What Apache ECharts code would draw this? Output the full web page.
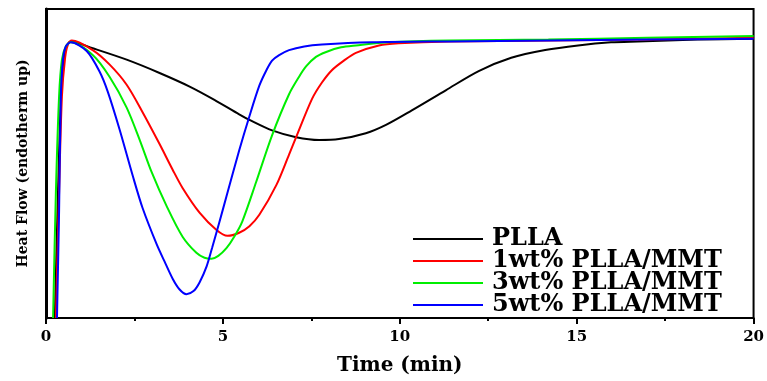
<!DOCTYPE html>
<html>
<head>
<meta charset="utf-8">
<script src="https://cdn.jsdelivr.net/npm/echarts@6/dist/echarts.min.js"></script>
<style>
  html, body { margin: 0; padding: 0; background: #fff; }
  #chart { width: 767px; height: 381px; }
</style>
</head>
<body>
<div id="chart"></div>
<script>
// [time (min), heat flow (arbitrary, 0 = axis bottom)]
const seriesNames = ["PLLA", "1wt% PLLA/MMT", "3wt% PLLA/MMT", "5wt% PLLA/MMT"];
const seriesColors = ["#000000", "#ff0000", "#00ee00", "#0000ff"];
const xTicks = [0, 5, 10, 15, 20];

const pllaData = [
  [0.25, 0], [0.34, 40.9], [0.45, 78.0], [0.56, 87.3], [0.7, 89.5], [1.32, 87.3],
  [2.28, 83.6], [3.21, 79.3], [4.06, 74.9], [4.76, 70.6], [5.46, 65.9], [5.75, 64.1],
  [6.39, 60.7], [7.07, 58.5], [7.72, 57.6], [8.28, 57.9], [9.04, 59.8], [9.61, 62.5],
  [10.34, 67.2], [11.3, 73.7], [12.23, 79.9], [13.15, 84.2], [14.11, 86.7],
  [15.04, 88.2], [15.97, 89.2], [16.73, 89.5], [18.42, 90.1], [20, 90.4]
];
const mmt1Data = [
  [0.28, 0], [0.37, 40.9], [0.45, 71.8], [0.54, 84.2], [0.62, 88.5], [0.73, 89.8],
  [1.32, 86.7], [1.8, 82.0], [2.28, 75.5], [2.73, 66.6], [3.21, 56.3], [3.58, 48.0],
  [3.86, 42.1], [4.34, 34.1], [4.82, 28.5], [5.13, 26.6], [5.46, 27.6], [5.75, 29.7],
  [6.03, 33.4], [6.51, 43.0], [6.87, 52.9], [7.07, 58.5], [7.52, 70.9], [7.8, 76.2],
  [8.08, 80.2], [8.42, 83.3], [8.76, 85.8], [9.41, 88.2], [9.97, 88.9], [11.38, 89.5],
  [14.2, 89.8], [17.0, 90.1], [20, 90.7]
];
const mmt3Data = [
  [0.2, 0], [0.28, 40.9], [0.37, 71.8], [0.45, 83.6], [0.56, 87.9], [0.7, 89.2],
  [1.32, 85.1], [1.8, 78.0], [2.28, 68.1], [2.65, 57.6], [2.99, 47.1], [3.41, 36.2],
  [3.86, 26.3], [4.25, 21.1], [4.48, 19.5], [4.68, 19.2], [4.87, 20.1], [5.1, 22.6],
  [5.32, 26.3], [5.55, 31.3], [5.94, 44.0], [6.39, 59.1], [6.87, 72.4], [7.15, 78.0],
  [7.35, 81.4], [7.63, 84.5], [7.92, 86.1], [8.34, 87.6], [8.76, 88.2], [9.69, 89.2],
  [11.38, 89.8], [14.2, 90.1], [17.0, 90.7], [20, 91.3]
];
const mmt5Data = [
  [0.31, 0], [0.37, 34.7], [0.42, 71.8], [0.48, 83.6], [0.56, 87.9], [0.7, 89.2],
  [1.15, 86.4], [1.52, 79.6], [1.75, 73.1], [2.08, 61.0], [2.45, 46.1], [2.73, 35.6],
  [3.13, 23.8], [3.35, 18.3], [3.58, 12.7], [3.77, 9.3], [3.97, 7.7], [4.17, 8.7],
  [4.34, 11.5], [4.54, 16.7], [4.7, 22.9], [4.9, 31.0], [5.1, 39.3], [5.46, 54.2],
  [5.75, 65.3], [6.03, 75.2], [6.23, 80.2], [6.39, 83.3], [6.59, 85.1], [6.87, 86.7],
  [7.3, 87.9], [7.8, 88.5], [9.21, 89.2], [11.38, 89.5], [14.2, 89.8], [17.0, 90.1],
  [20, 90.4]
];
const allData = [pllaData, mmt1Data, mmt3Data, mmt5Data];

const chart = echarts.init(document.getElementById("chart"));
const serif = "DejaVu Serif";

chart.setOption({
  animation: false,
  backgroundColor: "#fff",
  grid: {
    left: 46, right: 11, top: 9, bottom: 49,
    show: true, borderColor: "#000", borderWidth: 2, backgroundColor: "transparent"
  },
  legend: {
    orient: "vertical",
    left: 408,
    top: 222,
    icon: "rect",
    itemWidth: 70,
    itemHeight: 2,
    itemGap: -2,
    textStyle: {
      fontFamily: serif, fontWeight: "bold", fontSize: 24, color: "#000",
      lineHeight: 22, padding: [0, 0, 0, 4]
    },
    data: seriesNames
  },
  xAxis: {
    type: "value",
    min: 0, max: 20, interval: 5,
    name: "Time (min)",
    nameLocation: "middle",
    nameGap: 38,
    nameTextStyle: { fontFamily: serif, fontWeight: "bold", fontSize: 20, color: "#000" },
    axisLine: { show: true, onZero: false, lineStyle: { color: "#000", width: 2 } },
    axisTick: { show: true, inside: false, length: 6, lineStyle: { color: "#000", width: 2 } },
    minorTick: { show: true, splitNumber: 2, length: 3, lineStyle: { color: "#000", width: 2 } },
    axisLabel: {
      margin: 12, fontFamily: serif, fontWeight: "bold", fontSize: 15, color: "#000",
      formatter: v => (xTicks.includes(v) ? String(v) : "")
    },
    splitLine: { show: false }
  },
  yAxis: {
    type: "value",
    min: 0, max: 100,
    name: "Heat Flow (endotherm up)",
    nameLocation: "middle",
    nameGap: 16,
    nameTextStyle: { fontFamily: serif, fontWeight: "bold", fontSize: 14, color: "#000" },
    axisLine: { show: true, lineStyle: { color: "#000", width: 3 } },
    axisTick: { show: false },
    axisLabel: { show: false },
    splitLine: { show: false }
  },
  series: allData.map((d, i) => ({
    name: seriesNames[i],
    type: "line",
    data: d,
    smooth: 0.3,
    showSymbol: false,
    symbol: "none",
    color: seriesColors[i],
    lineStyle: { color: seriesColors[i], width: 2 },
    itemStyle: { color: seriesColors[i] }
  }))
});
</script>
</body>
</html>
